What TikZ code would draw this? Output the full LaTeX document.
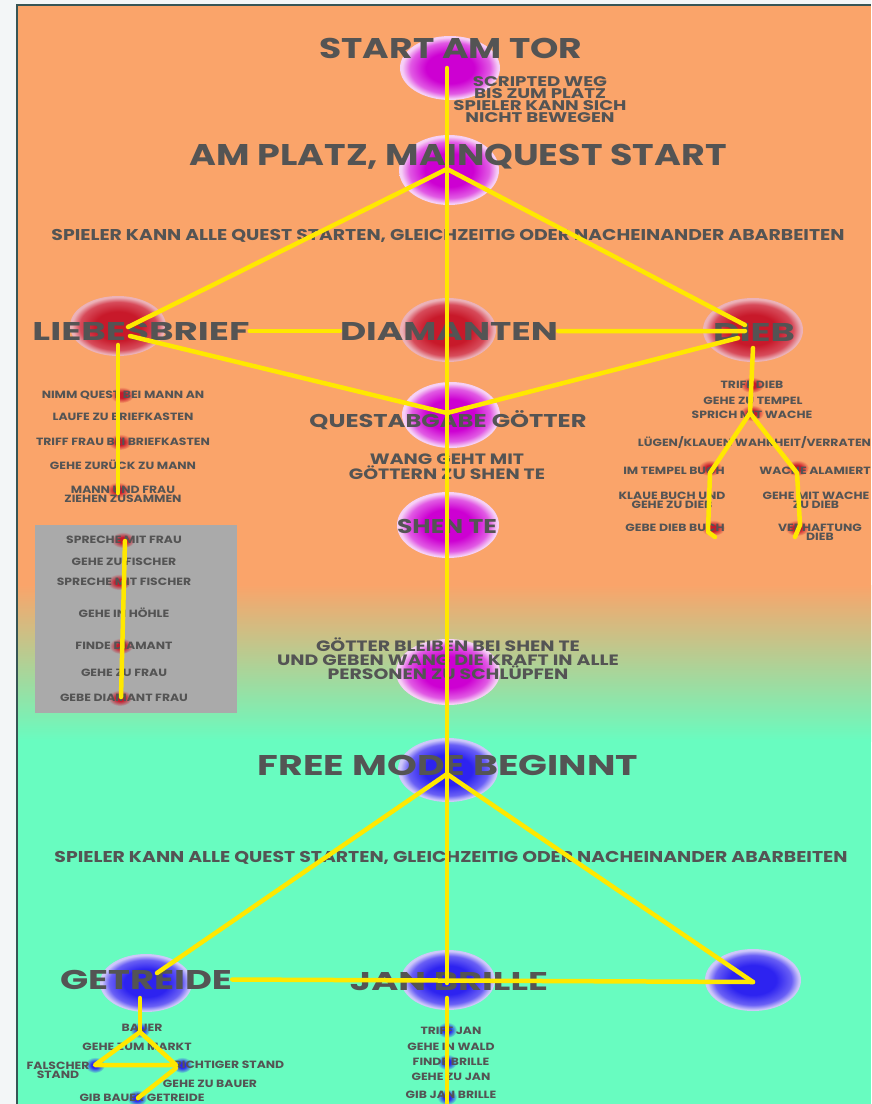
\documentclass[tikz,border=0pt]{standalone}
\usepackage{fontspec}
\setmainfont{Poppins}
\newfontfamily\smf{Poppins}[FakeStretch=1.18]
\newfontfamily\mdf{Poppins}[FakeStretch=1.26]
\newfontfamily\scf{Poppins}[FakeStretch=1.3]
\usepackage{graphicx}
\definecolor{bgor}{RGB}{250,164,106}
\definecolor{bggr}{RGB}{104,252,192}
\definecolor{marg}{RGB}{243,246,247}
\definecolor{bord}{RGB}{55,85,85}
\definecolor{txt}{RGB}{84,84,84}
\definecolor{yel}{RGB}{255,232,0}
\definecolor{graybox}{RGB}{170,170,170}
\definecolor{mgA}{RGB}{205,0,210}
\definecolor{mgB}{RGB}{225,90,228}
\definecolor{mgC}{RGB}{246,208,246}
\definecolor{rdA}{RGB}{200,25,42}
\definecolor{rdB}{RGB}{215,75,90}
\definecolor{rdC}{RGB}{236,178,184}
\definecolor{blA}{RGB}{45,35,240}
\definecolor{blB}{RGB}{105,95,245}
\definecolor{blC}{RGB}{206,200,250}
\pgfdeclareradialshading{magblob}{\pgfpointorigin}{color(0bp)=(mgA); color(12bp)=(mgA); color(20bp)=(mgB); color(24bp)=(mgC); color(25bp)=(mgC); color(50bp)=(mgC)}
\pgfdeclareradialshading{redblob}{\pgfpointorigin}{color(0bp)=(rdA); color(12bp)=(rdA); color(20bp)=(rdB); color(24bp)=(rdC); color(25bp)=(rdC); color(50bp)=(rdC)}
\pgfdeclareradialshading{blueblob}{\pgfpointorigin}{color(0bp)=(blA); color(12bp)=(blA); color(20bp)=(blB); color(24bp)=(blC); color(25bp)=(blC); color(50bp)=(blC)}
\pgfdeclareradialshading{rdot}{\pgfpointorigin}{color(0bp)=(rdA); color(9bp)=(rdA); color(25bp)=(bgor); color(50bp)=(bgor)}
\pgfdeclareradialshading{rdotg}{\pgfpointorigin}{color(0bp)=(rdA); color(9bp)=(rdA); color(25bp)=(graybox); color(50bp)=(graybox)}
\pgfdeclareradialshading{bdot}{\pgfpointorigin}{color(0bp)=(blA); color(9bp)=(blA); color(25bp)=(bggr); color(50bp)=(bggr)}
\newcommand\blob[6]{\shade[shading=#6] (#2,#3) ellipse [x radius=#4, y radius=#5]; \coordinate (#1) at (#2,#3);}
\newcommand\cf[3]{\resizebox{#1pt}{#2pt}{\smash{#3}\vphantom{H}}}
\begin{document}
\begin{tikzpicture}[x=1pt,y=-1pt,
  lbl/.style={inner sep=0pt,anchor=base,text=txt,font=\bfseries},
  sm/.style={inner sep=0pt,anchor=base,text=txt,font=\smf\bfseries\fontsize{10.5}{9}\selectfont},
  sm2/.style={inner sep=0pt,anchor=center,align=center,text=txt,font=\smf\bfseries\fontsize{10.5}{9}\selectfont},
  mid/.style={inner sep=0pt,anchor=center,align=center,text=txt,font=\mdf\bfseries\fontsize{15}{13.5}\selectfont},
  yl/.style={draw=yel,line width=4.5pt,line cap=round,line join=round}]
\useasboundingbox (0,0) rectangle (871,1104);
% background
\fill[marg] (0,0) rectangle (871,1104);
\fill[bgor] (17,5) rectangle (871,586);
\shade[top color=bgor,bottom color=bggr] (17,585) rectangle (871,741);
\fill[bggr] (17,740) rectangle (871,1104);
\draw[bord,line width=1.5pt] (17,1104) -- (17,5) -- (871,5);
\fill[graybox] (35,525) rectangle (237,713);
% blobs
\blob{bStart}{450}{68}{50}{32}{magblob}
\blob{bPlatz}{449}{170}{50}{35}{magblob}
\blob{bQuest}{451}{415}{49}{33}{magblob}
\blob{bShen}{448}{525}{51}{33}{magblob}
\blob{bGoett}{448}{672}{52}{33}{magblob}
\blob{bLieb}{118}{326}{48}{30}{redblob}
\blob{bDiam}{448}{330}{48}{32}{redblob}
\blob{bDieb}{753}{330}{50}{32}{redblob}
\blob{bFree}{448}{770}{50}{32}{blueblob}
\blob{bGetr}{146}{983}{46}{29}{blueblob}
\blob{bJan}{448}{980}{47}{30}{blueblob}
\blob{bRight}{753}{980}{48}{31}{blueblob}
% small dots
\blob{l1}{122}{395}{12}{8}{rdot}
\blob{l2}{120}{442}{12}{8}{rdot}
\blob{l3}{118}{490}{12}{8}{rdot}
\blob{d1}{752}{385}{12}{8}{rdot}
\blob{d2}{752}{413}{12}{8}{rdot}
\blob{d3}{710}{468}{12}{8}{rdot}
\blob{d4}{797}{468}{12}{8}{rdot}
\blob{d5}{713}{528}{12}{8}{rdot}
\blob{d6}{797}{528}{12}{8}{rdot}
\blob{k1}{123}{540}{12}{8}{rdotg}
\blob{k2}{119}{582}{12}{8}{rdotg}
\blob{k3}{121}{646}{12}{8}{rdotg}
\blob{k4}{120}{698}{12}{8}{rdotg}
\blob{g1}{140}{1030}{10}{8}{bdot}
\blob{g2}{95}{1065}{10}{8}{bdot}
\blob{g3}{182}{1065}{10}{8}{bdot}
\blob{g4}{137}{1098}{10}{8}{bdot}
\blob{j1}{447}{1030}{10}{8}{bdot}
\blob{j2}{447}{1062}{10}{8}{bdot}
\blob{j3}{447}{1097}{10}{8}{bdot}
% titles
\node[lbl] (tStart) at (451,58) {\cf{263}{20}{START AM TOR}};
\node[lbl] (tPlatz) at (458,165) {\cf{537}{21}{AM PLATZ, MAINQUEST START}};
\node[lbl] (tSub1) at (448,240.5) {\cf{793}{11}{SPIELER KANN ALLE QUEST STARTEN, GLEICHZEITIG ODER NACHEINANDER ABARBEITEN}};
\node[lbl] (tLieb) at (141,340) {\cf{217}{18}{LIEBESBRIEF}};
\node[lbl] (tDiam) at (449,340) {\cf{218}{18}{DIAMANTEN}};
\node[lbl] (tDieb) at (754,341) {\cf{82}{18}{DIEB}};
\node[lbl] (tQuest) at (448,427) {\cf{277}{13}{QUESTABGABE GÖTTER}};
\node[lbl] (tShen) at (447,533) {\cf{100}{14}{SHEN TE}};
\node[lbl] (tFree) at (448,775) {\cf{380}{20}{FREE MODE BEGINNT}};
\node[lbl] (tSub2) at (451,862.5) {\cf{793}{11}{SPIELER KANN ALLE QUEST STARTEN, GLEICHZEITIG ODER NACHEINANDER ABARBEITEN}};
\node[lbl] (tGetr) at (146,989) {\cf{172}{19}{GETREIDE}};
\node[lbl] (tJan) at (449,990) {\cf{198}{18}{JAN BRILLE}};
% middle texts
\node[mid,font=\scf\bfseries\fontsize{14}{12}\selectfont] (tScript) at (540,100) {SCRIPTED WEG\\BIS ZUM PLATZ\\SPIELER KANN SICH\\NICHT BEWEGEN};
\node[mid] (tWang) at (447,466.5) {WANG GEHT MIT\\GÖTTERN ZU SHEN TE};
\node[mid] (tGoett) at (448,659) {GÖTTER BLEIBEN BEI SHEN TE\\UND GEBEN WANG DIE KRAFT IN ALLE\\PERSONEN ZU SCHLÜPFEN};
% Liebesbrief list
\node[sm] (a1) at (123,398.6) {NIMM QUEST BEI MANN AN};
\node[sm] (a2) at (123,420.6) {LAUFE ZU BRIEFKASTEN};
\node[sm] (a3) at (123,445.6) {TRIFF FRAU BEI BRIEFKASTEN};
\node[sm] (a4) at (123,469.6) {GEHE ZURÜCK ZU MANN};
\node[sm2] (a5) at (123,494.5) {MANN UND FRAU\\ZIEHEN ZUSAMMEN};
% grey box list
\node[sm] (b1) at (124,543.5) {SPRECHE MIT FRAU};
\node[sm] (b2) at (124,565.5) {GEHE ZU FISCHER};
\node[sm] (b3) at (124,585.5) {SPRECHE MIT FISCHER};
\node[sm] (b4) at (124,617.5) {GEHE IN HÖHLE};
\node[sm] (b5) at (124,649.5) {FINDE DIAMANT};
\node[sm] (b6) at (124,676.5) {GEHE ZU FRAU};
\node[sm] (b7) at (124,701.5) {GEBE DIAMANT FRAU};
% Dieb list
\node[sm] (c1) at (752,388.6) {TRIFF DIEB};
\node[sm] (c2) at (753,404.6) {GEHE ZU TEMPEL};
\node[sm] (c3) at (752,418.6) {SPRICH MIT WACHE};
\node[sm] (c4) at (685,446.6) {LÜGEN/KLAUEN};
\node[sm] (c5) at (803,446.6) {WAHRHEIT/VERRATEN};
\node[sm] (c6) at (674,474.6) {IM TEMPEL BUCH};
\node[sm] (c7) at (815,474.6) {WACHE ALAMIERT};
\node[sm2] (c8) at (672,500.5) {KLAUE BUCH UND\\GEHE ZU DIEB};
\node[sm2] (c9) at (816,500.5) {GEHE MIT WACHE\\ZU DIEB};
\node[sm] (c10) at (675,531.6) {GEBE DIEB BUCH};
\node[sm2] (c11) at (820,532.5) {VERHAFTUNG\\DIEB};
% Getreide list
\node[sm] (e1) at (142,1031.6) {BAUER};
\node[sm] (e2) at (137,1050.6) {GEHE ZUM MARKT};
\node[sm2] (e3) at (58,1070) {FALSCHER\\STAND};
\node[sm] (e4) at (229,1068.6) {RICHTIGER STAND};
\node[sm] (e5) at (210,1087.6) {GEHE ZU BAUER};
\node[sm] (e6) at (142,1101.6) {GIB BAUER GETREIDE};
% Jan list
\node[sm] (f1) at (451,1034.6) {TRIFF JAN};
\node[sm] (f2) at (451,1050.6) {GEHE IN WALD};
\node[sm] (f3) at (451,1065.6) {FINDE BRILLE};
\node[sm] (f4) at (451,1080.6) {GEHE ZU JAN};
\node[sm] (f5) at (451,1098.6) {GIB JAN BRILLE};
% junctions
\coordinate (jStart) at (447,68);
\coordinate (jPlatz) at (447,169);
\coordinate (jLiebU) at (128,327);
\coordinate (jLiebL) at (130,336);
\coordinate (jDiebU) at (745,325);
\coordinate (jDiebL) at (738,338);
\coordinate (jDiebH) at (745,331);
\coordinate (jQuest) at (447,413);
\coordinate (jFree) at (447,774);
\coordinate (jGetr) at (157,973);
\coordinate (jRight) at (753,982);
\coordinate (jJanTop) at (447,983);
\coordinate (jJanBot) at (447,998);
\coordinate (jBottom) at (447,1106);
\coordinate (lv1) at (118,345);
\coordinate (lv2) at (118,493);
\coordinate (gv1) at (125,541);
\coordinate (gv2) at (121,697);
\coordinate (dt0) at (753,348);
\coordinate (dt1) at (750,413);
\coordinate (dL1) at (710,473);
\coordinate (dL2) at (708,532);
\coordinate (dL3) at (715,537);
\coordinate (dR1) at (797,473);
\coordinate (dR2) at (800,525);
\coordinate (dR3) at (795,537);
\coordinate (g0) at (140,998);
\coordinate (gB) at (140,1032);
\coordinate (gF) at (95,1065);
\coordinate (gR) at (176,1065);
\coordinate (gR2) at (176,1068);
\coordinate (gG) at (138,1098);
% connectors
\draw[yl] (jStart) -- (jPlatz) -- (jQuest) -- (jFree) -- (jJanTop);
\draw[yl] (jJanBot) -- (jBottom);
\draw[yl] (jPlatz) -- (jLiebU);
\draw[yl] (jPlatz) -- (jDiebU);
\draw[yl] (jLiebL) -- (jQuest) -- (jDiebL);
\draw[yl] (tLieb.east) -- (tDiam.west);
\draw[yl] (tDiam.east) -- (jDiebH);
\draw[yl] (lv1) -- (lv2);
\draw[yl] (gv1) -- (gv2);
\draw[yl] (dt0) -- (dt1) -- (dL1) -- (dL2) -- (dL3);
\draw[yl] (dt1) -- (dR1) -- (dR2) -- (dR3);
\draw[yl] (jGetr) -- (jFree) -- (jRight);
\draw[yl] (tGetr.east) -- (jRight);
\draw[yl] (g0) -- (gB);
\draw[yl] (gB) -- (gF) -- (gR) -- cycle;
\draw[yl] (gR2) -- (gG);
\end{tikzpicture}
\end{document}
